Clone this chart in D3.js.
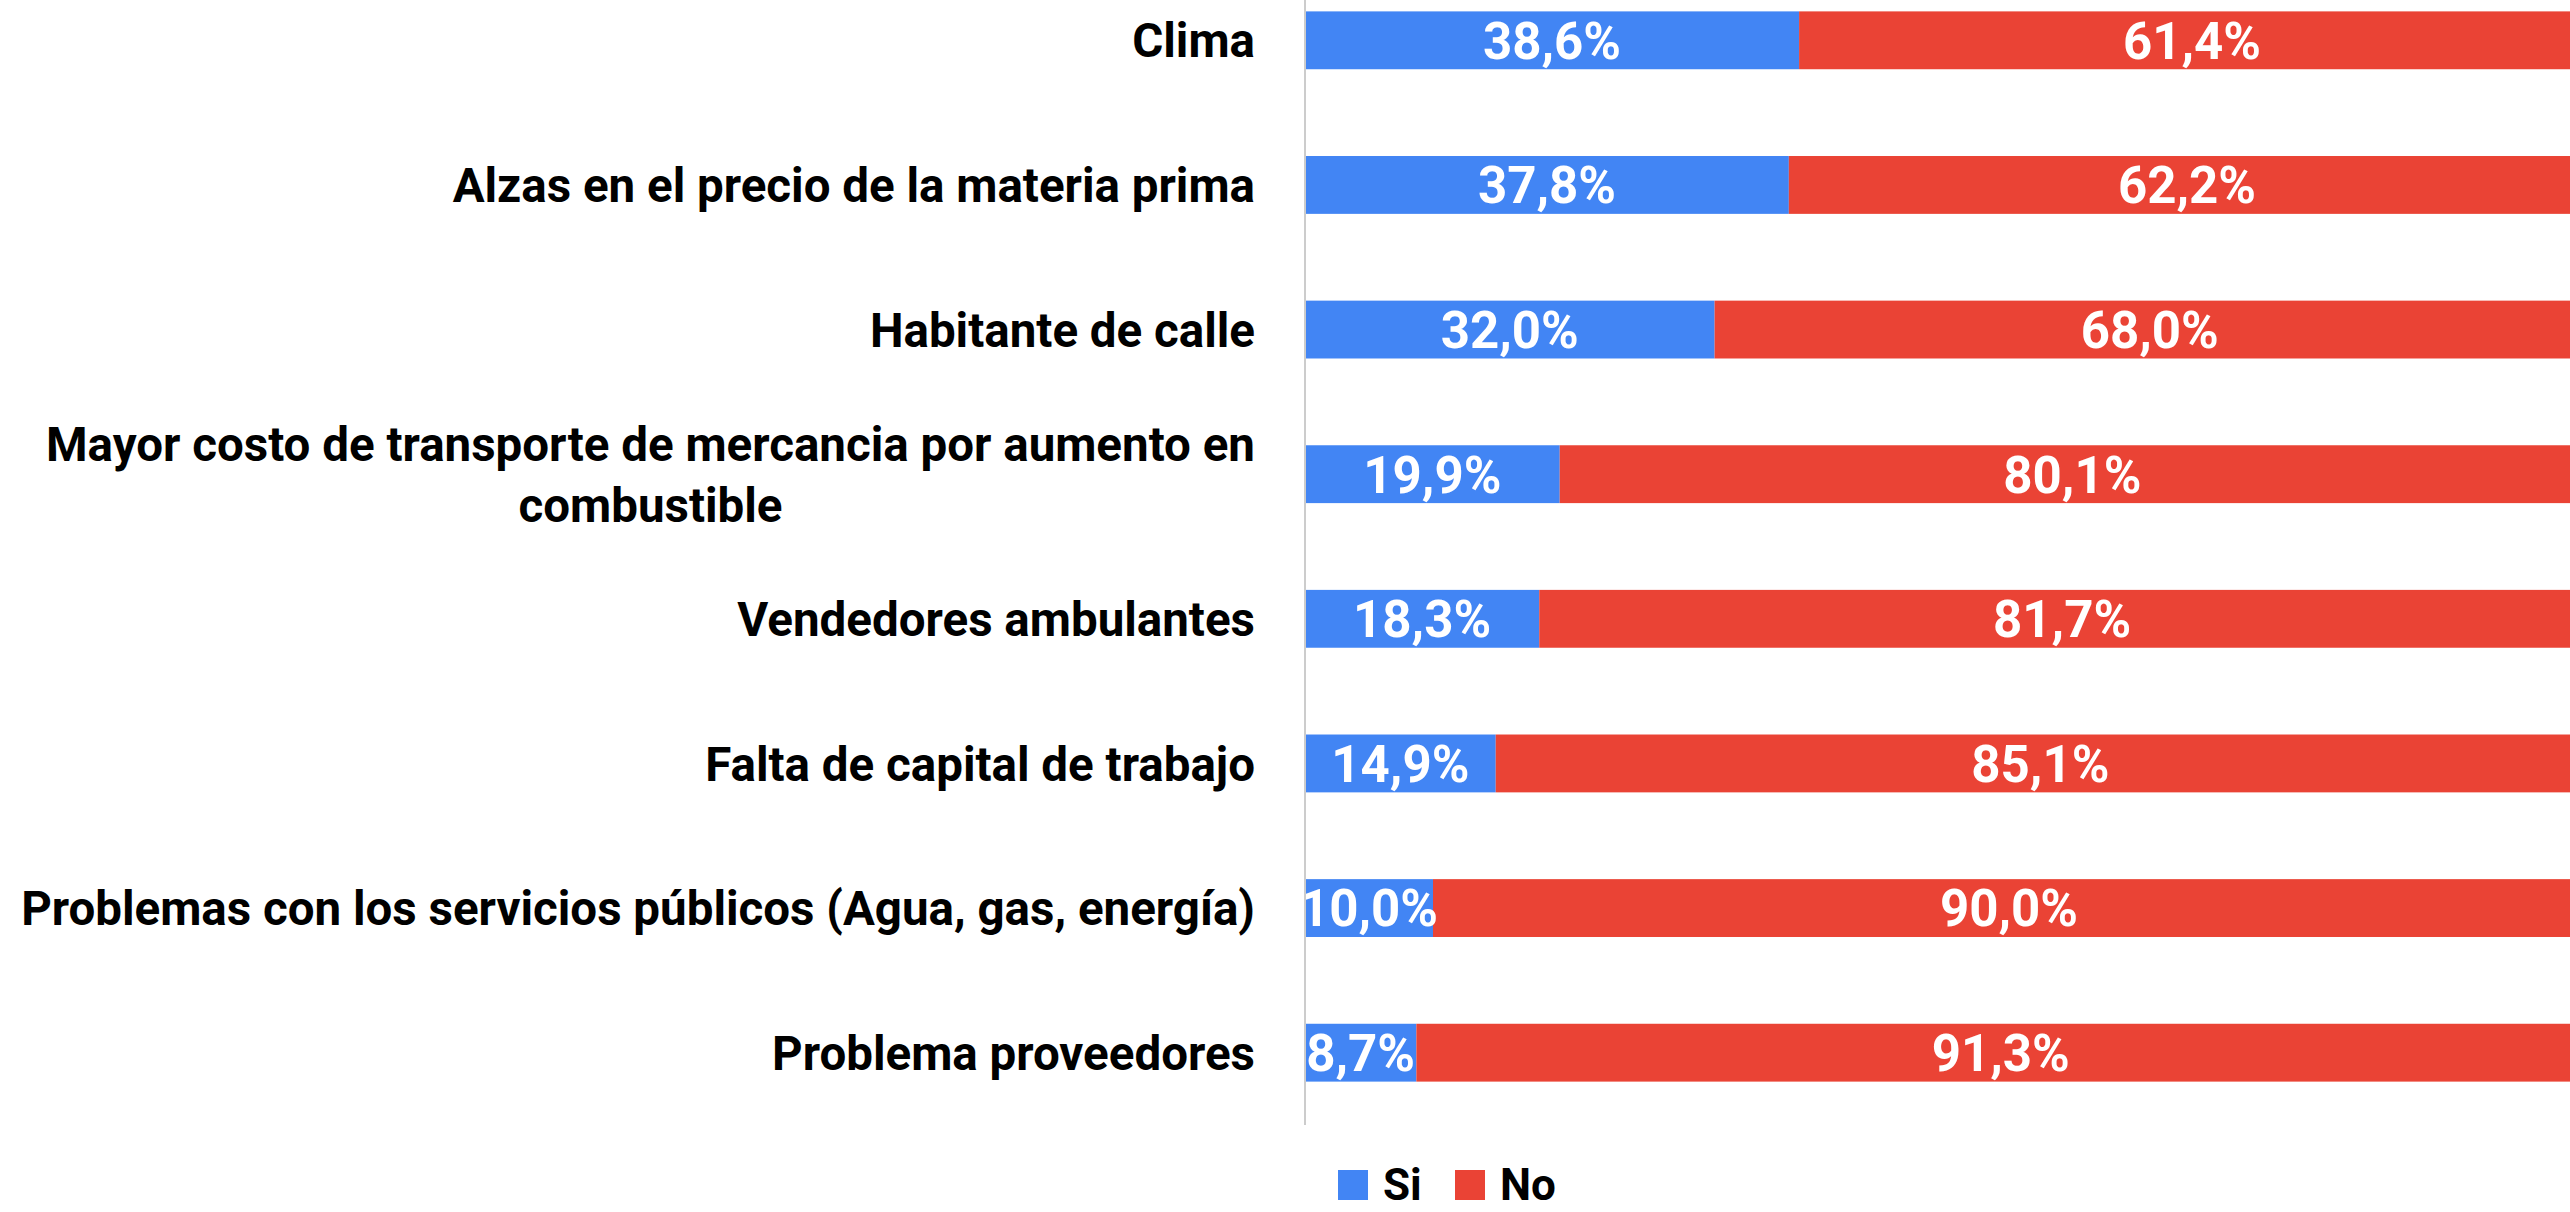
<!DOCTYPE html>
<html>
<head>
<meta charset="utf-8">
<script src="https://cdn.jsdelivr.net/npm/d3@7"></script>
<style>
  body { margin: 0; background: #fff; }
  svg { display: block; }
  text { font-family: Roboto, "Open Sans", sans-serif; font-weight: 700; }
</style>
</head>
<body>
<div class="chart"></div>
<script>
const categories = [
  "Clima",
  "Alzas en el precio de la materia prima",
  "Habitante de calle",
  "Mayor costo de transporte de mercancia por aumento en combustible",
  "Vendedores ambulantes",
  "Falta de capital de trabajo",
  "Problemas con los servicios públicos (Agua, gas, energía)",
  "Problema proveedores"
]
const siValues = [38.6, 37.8, 32.0, 19.9, 18.3, 14.9, 10.0, 8.7]
const noValues = [61.4, 62.2, 68.0, 80.1, 81.7, 85.1, 90.0, 91.3]
const seriesNames = ["Si", "No"]
const seriesColors = ["#4285F4", "#EA4335"]

makeSVG()

function makeSVG() {
    const svgwidth = 2570
    const svgheight = 1212
    const axisX = 1305

    const rows = categories.map((c, i) => ({cat: c, Si: siValues[i], No: noValues[i]}))
    const stack = d3.stack().keys(seriesNames)(rows)

    const svg = d3.select(".chart").append("svg")
        .attr("width", svgwidth)
        .attr("height", svgheight)

    const xScale = d3.scaleLinear()
        .domain([0, 100])
        .range([axisX, 2585])
    const yScale = d3.scaleBand()
        .domain(categories)
        .range([-32, 1125])
        .paddingInner(0.6)
        .paddingOuter(0.3)
    const colorScale = d3.scaleOrdinal()
        .domain(seriesNames)
        .range(seriesColors)

    const locale = d3.formatLocale({decimal: ",", thousands: ".", grouping: [3], currency: ["", ""]})
    const fmt = locale.format(".1f")

    svg.append("clipPath")
        .attr("id", "plot")
        .append("rect")
        .attr("x", axisX)
        .attr("y", 0)
        .attr("width", svgwidth - axisX)
        .attr("height", svgheight)

    // bars
    const groups = svg.append("g")
        .selectAll("g")
        .data(stack)
        .enter()
        .append("g")
        .attr("fill", d => colorScale(d.key))

    groups.selectAll("rect")
        .data(d => d)
        .enter()
        .append("rect")
        .attr("x", d => xScale(d[0]))
        .attr("y", d => yScale(d.data.cat))
        .attr("width", d => xScale(d[1]) - xScale(d[0]))
        .attr("height", yScale.bandwidth())

    // value labels
    const labels = svg.append("g").attr("clip-path", "url(#plot)")
    stack.forEach(s => {
        labels.append("g")
            .selectAll("text")
            .data(s)
            .enter()
            .append("text")
            .attr("x", d => (xScale(d[0]) + xScale(d[1])) / 2)
            .attr("y", d => yScale(d.data.cat) + yScale.bandwidth() / 2)
            .attr("dy", "0.36em")
            .attr("text-anchor", "middle")
            .attr("fill", "#fff")
            .attr("font-size", 51)
            .text(d => fmt(d[1] - d[0]) + "%")
    })

    // axis line
    svg.append("line")
        .attr("x1", axisX).attr("x2", axisX)
        .attr("y1", 0).attr("y2", yScale.range()[1])
        .attr("stroke", "#ccc")
        .attr("stroke-width", 2)

    // category labels, wrapped and centered within a right-aligned block
    const labelRight = 1255
    const maxWidth = 1240
    const lineH = 61
    const catG = svg.append("g")
    categories.forEach(c => {
        const t = catG.append("text")
            .attr("font-size", 47.5)
            .attr("fill", "#000")
            .attr("text-anchor", "middle")
        const words = c.split(" ")
        let lines = []
        let line = []
        const probe = t.append("tspan")
        words.forEach(w => {
            line.push(w)
            probe.text(line.join(" "))
            if (probe.node().getComputedTextLength() > maxWidth && line.length > 1) {
                line.pop()
                lines.push(line.join(" "))
                line = [w]
            }
        })
        lines.push(line.join(" "))
        let blockW = 0
        lines.forEach(l => {
            probe.text(l)
            blockW = Math.max(blockW, probe.node().getComputedTextLength())
        })
        probe.remove()
        const cy = yScale(c) + yScale.bandwidth() / 2
        const cx = labelRight - blockW / 2
        lines.forEach((l, i) => {
            t.append("tspan")
                .attr("x", cx)
                .attr("y", cy + (i - (lines.length - 1) / 2) * lineH)
                .attr("dy", "0.36em")
                .text(l)
        })
    })

    // legend
    const legendX = [1338, 1455]
    const legend = svg.append("g")
        .selectAll("g")
        .data(seriesNames)
        .enter()
        .append("g")
        .attr("transform", (d, i) => `translate(${legendX[i]}, 1170)`)
    legend.append("rect")
        .attr("width", 30)
        .attr("height", 30)
        .attr("fill", d => colorScale(d))
    legend.append("text")
        .attr("x", 45)
        .attr("y", 30)
        .attr("font-size", 44)
        .attr("fill", "#000")
        .text(d => d)
}
</script>
</body>
</html>
